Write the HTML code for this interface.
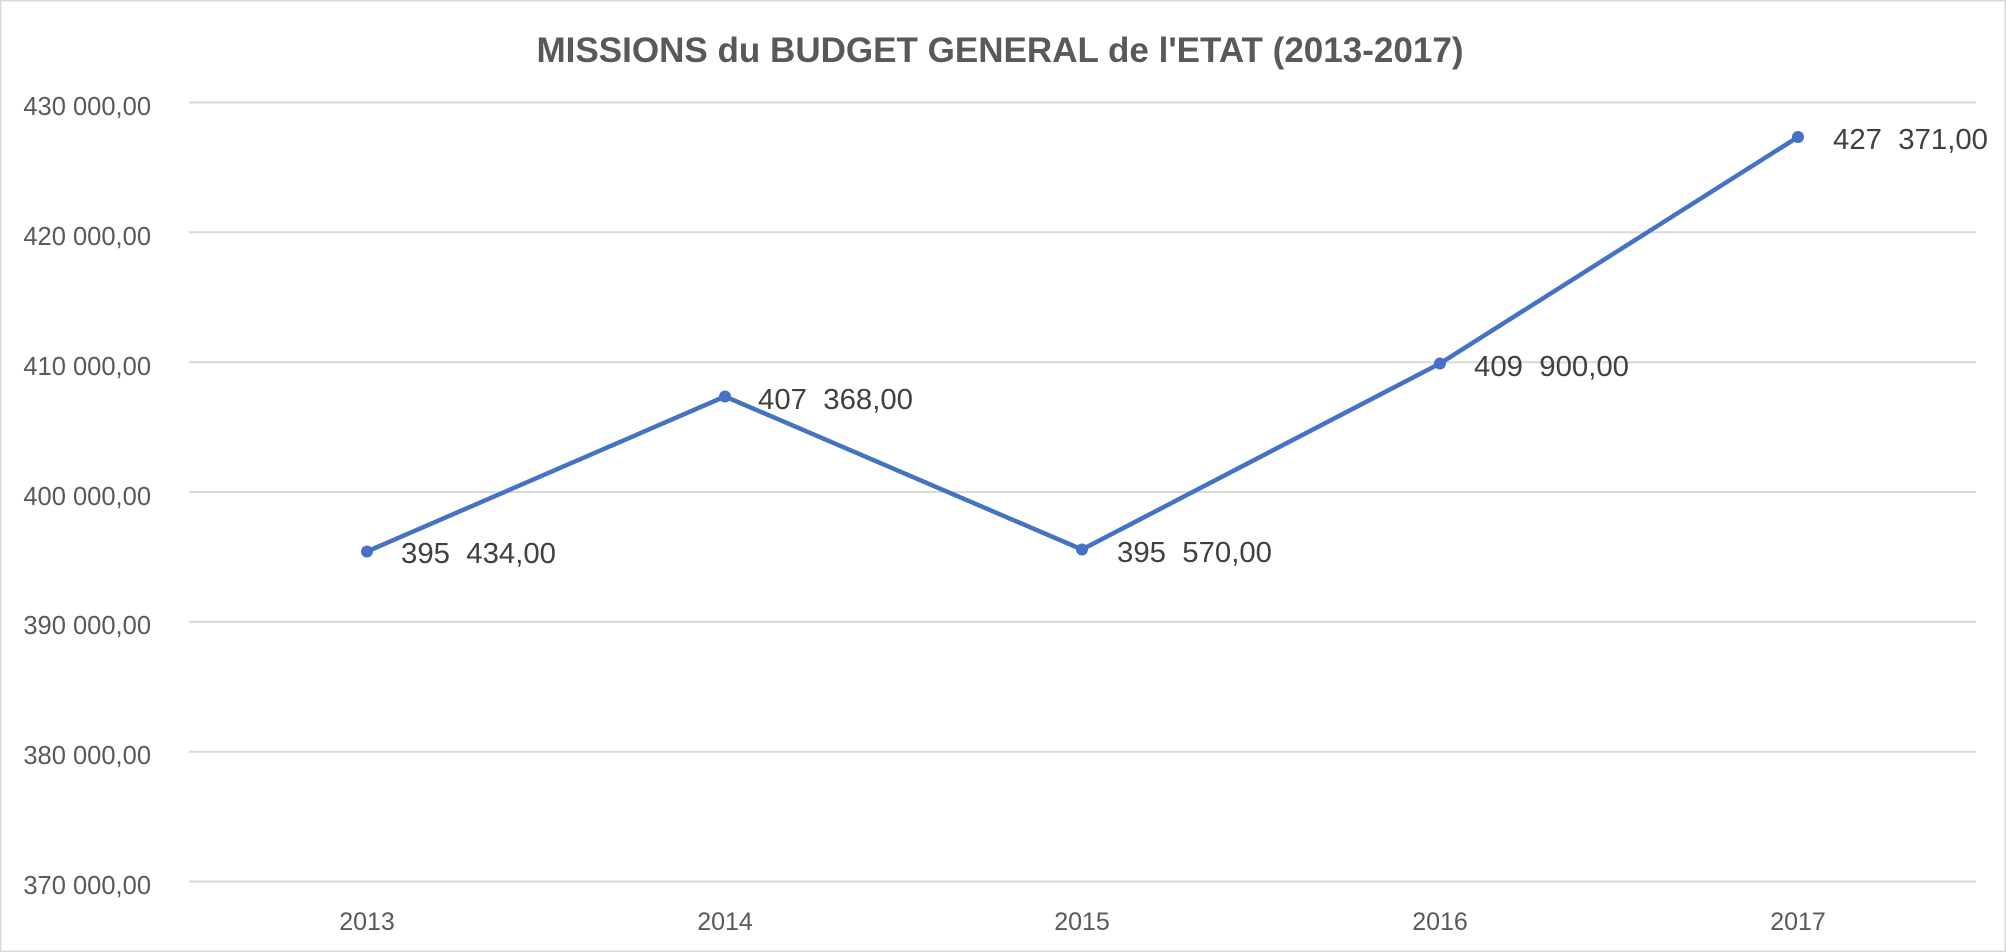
<!DOCTYPE html>
<html><head><meta charset="utf-8"><style>
html,body{margin:0;padding:0;background:#fff}
svg{display:block}
text{font-family:"Liberation Sans",sans-serif}
</style></head><body>
<svg width="2006" height="952" viewBox="0 0 2006 952">
<rect x="0.5" y="0.5" width="2005" height="951" fill="#fff" stroke="#d9d9d9" stroke-width="2"/>
<text x="1000" y="62" text-anchor="middle" font-size="35" font-weight="bold" fill="#595959" textLength="927" lengthAdjust="spacingAndGlyphs">MISSIONS du BUDGET GENERAL de l'ETAT (2013-2017)</text>
<g stroke="#d9d9d9" stroke-width="2">
<line x1="189" x2="1976" y1="102.5" y2="102.5"/>
<line x1="189" x2="1976" y1="232.3" y2="232.3"/>
<line x1="189" x2="1976" y1="362.2" y2="362.2"/>
<line x1="189" x2="1976" y1="492" y2="492"/>
<line x1="189" x2="1976" y1="621.8" y2="621.8"/>
<line x1="189" x2="1976" y1="751.7" y2="751.7"/>
<line x1="189" x2="1976" y1="881.5" y2="881.5"/>
</g>
<g font-size="25.5" fill="#595959" text-anchor="end">
<text x="151" y="115">430 000,00</text>
<text x="151" y="245">420 000,00</text>
<text x="151" y="375">410 000,00</text>
<text x="151" y="505">400 000,00</text>
<text x="151" y="634">390 000,00</text>
<text x="151" y="764">380 000,00</text>
<text x="151" y="894">370 000,00</text>
</g>
<g font-size="25" fill="#595959" text-anchor="middle">
<text x="367" y="930">2013</text>
<text x="725" y="930">2014</text>
<text x="1082" y="930">2015</text>
<text x="1440" y="930">2016</text>
<text x="1798" y="930">2017</text>
</g>
<polyline points="367,551.5 725,396.5 1082,549.5 1440,363.5 1798,137" fill="none" stroke="#4472c4" stroke-width="4.5" stroke-linejoin="round"/>
<g fill="#4472c4">
<circle cx="367" cy="551.5" r="6"/>
<circle cx="725" cy="396.5" r="6"/>
<circle cx="1082" cy="549.5" r="6"/>
<circle cx="1440" cy="363.5" r="6"/>
<circle cx="1798" cy="137" r="6"/>
</g>
<g font-size="29" fill="#404040">
<text x="401" y="563" textLength="155" lengthAdjust="spacingAndGlyphs">395&#160; 434,00</text>
<text x="758" y="409" textLength="155" lengthAdjust="spacingAndGlyphs">407&#160; 368,00</text>
<text x="1117" y="562" textLength="155" lengthAdjust="spacingAndGlyphs">395&#160; 570,00</text>
<text x="1474" y="376" textLength="155" lengthAdjust="spacingAndGlyphs">409&#160; 900,00</text>
<text x="1833" y="149" textLength="155" lengthAdjust="spacingAndGlyphs">427&#160; 371,00</text>
</g>
</svg>
</body></html>
